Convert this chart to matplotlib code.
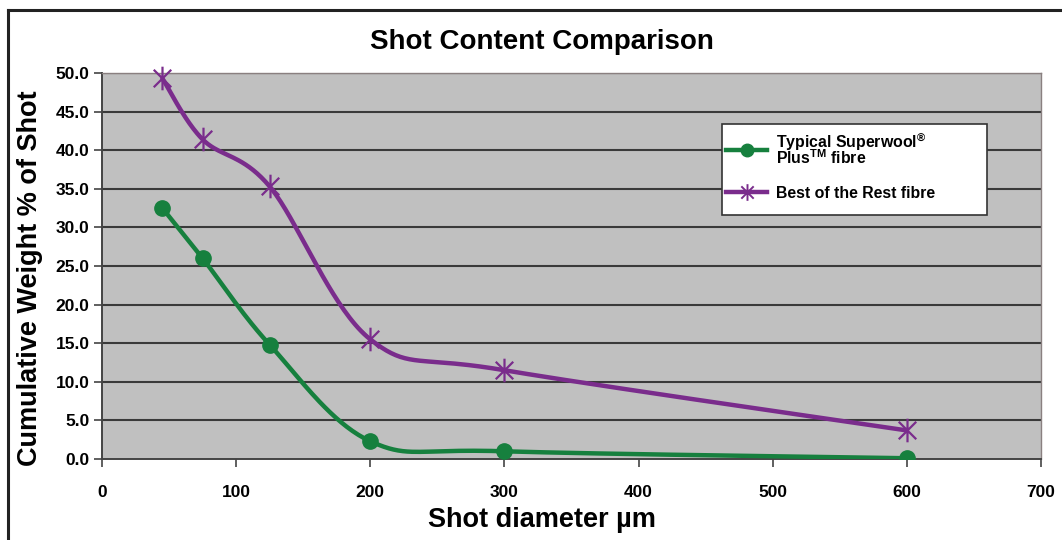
import numpy as np
import matplotlib
matplotlib.use("Agg")
import matplotlib.pyplot as plt
from matplotlib.path import Path
from matplotlib.lines import Line2D
from matplotlib.patches import Rectangle

# ---- data ----
diameters = [45, 75, 125, 200, 300, 600]
superwool = [32.5, 26.0, 14.8, 2.3, 1.0, 0.1]
best_rest = [49.3, 41.4, 35.3, 15.5, 11.5, 3.7]
series_labels = ["Typical Superwool$^{\\circledR}$\nPlus$^{\\mathrm{TM}}$ fibre", "Best of the Rest fibre"]
x_ticks = [0, 100, 200, 300, 400, 500, 600, 700]
y_ticks = [0, 5, 10, 15, 20, 25, 30, 35, 40, 45, 50]

GREEN = "#16803e"
PURPLE = "#7a2c8c"
plt.rcParams['font.family'] = ['Liberation Sans', 'DejaVu Sans']
plt.rcParams['mathtext.fontset'] = 'custom'
plt.rcParams['mathtext.rm'] = 'Liberation Sans:bold'
plt.rcParams['mathtext.bf'] = 'Liberation Sans:bold'
plt.rcParams['mathtext.default'] = 'rm'

W, H = 1062.0, 540.0
fig = plt.figure(figsize=(10.62, 5.4), dpi=100)
ax = fig.add_axes([102/W, 1-459/H, (1041-102)/W, (459-73)/H])

XMIN, XMAX, YMIN, YMAX = 0, 700, 0, 50
ax_w, ax_h = 939.0, 386.0


def smooth(xs, ys, n=40):
    # Excel-like Bezier smoothing computed in screen space
    P = np.column_stack([(np.array(xs) - XMIN) / (XMAX - XMIN) * ax_w,
                         (np.array(ys) - YMIN) / (YMAX - YMIN) * ax_h])
    out = []
    m = len(P)
    t = np.linspace(0, 1, n)[:, None]
    for i in range(m - 1):
        p0 = P[i - 1] if i > 0 else P[i]
        p1, p2 = P[i], P[i + 1]
        p3 = P[i + 2] if i + 2 < m else P[i + 1]
        c1 = p1 + (p2 - p0) / 6.0
        c2 = p2 - (p3 - p1) / 6.0
        seg = ((1 - t) ** 3) * p1 + 3 * ((1 - t) ** 2) * t * c1 + 3 * (1 - t) * t ** 2 * c2 + t ** 3 * p2
        out.append(seg if i == 0 else seg[1:])
    S = np.vstack(out)
    return S[:, 0] / ax_w * (XMAX - XMIN) + XMIN, S[:, 1] / ax_h * (YMAX - YMIN) + YMIN

star = Path([(-1, -1), (1, 1), (-1, 1), (1, -1), (0, -1.35), (0, 1.35)],
            [Path.MOVETO, Path.LINETO, Path.MOVETO, Path.LINETO, Path.MOVETO, Path.LINETO])

ax.set_facecolor("#c0c0c0")
for yv in y_ticks[1:]:
    ax.axhline(yv, color="#3a3a3a", lw=1.5, zorder=1)

sx, sy = smooth(diameters, superwool)
ax.plot(sx, sy, color=GREEN, lw=3.2, zorder=3, solid_capstyle='round')
ax.plot(diameters, superwool, 'o', color=GREEN, ms=11, zorder=4)

bx, by = smooth(diameters, best_rest)
ax.plot(bx, by, color=PURPLE, lw=3.2, zorder=3, solid_capstyle='round')
ax.plot(diameters, best_rest, linestyle='none', marker=star, ms=17, mec=PURPLE,
        mfc='none', mew=1.6, zorder=4, clip_on=False)

ax.set_xlim(XMIN, XMAX)
ax.set_ylim(YMIN, YMAX)
ax.set_xticks(x_ticks)
ax.set_yticks(y_ticks)
ax.set_xticklabels([str(v) for v in x_ticks], fontsize=12.5, fontweight='bold')
ax.set_yticklabels([f"{v:.1f}" for v in y_ticks], fontsize=12.5, fontweight='bold')
ax.tick_params(axis='both', direction='out', length=6, width=1.2, color="#444444")
ax.tick_params(axis='x', pad=13)
ax.tick_params(axis='y', pad=3)
for side in ['top', 'right']:
    ax.spines[side].set_color("#8a8080")
    ax.spines[side].set_linewidth(1.0)
for side in ['left', 'bottom']:
    ax.spines[side].set_color("#444444")
    ax.spines[side].set_linewidth(1.4)

fig.text(542/W, 1-42/H, "Shot Content Comparison", ha='center', va='center',
         fontsize=20, fontweight='bold')
fig.text(542/W, 1-520/H, "Shot diameter \u00b5m", ha='center', va='center',
         fontsize=19.5, fontweight='bold')
fig.text(30/W, 1-278/H, "Cumulative Weight % of Shot", ha='center', va='center',
         rotation=90, fontsize=19.5, fontweight='bold')

# legend box
box = Rectangle((722/W, 1-215/H), (987-722)/W, (215-124)/H, transform=fig.transFigure,
                facecolor='white', edgecolor='#333333', lw=1.2, zorder=5)
fig.add_artist(box)

handles = [Line2D([], [], color=GREEN, lw=3.2, marker='o', ms=9),
           Line2D([], [], color=PURPLE, lw=3.2, marker=star, ms=12, mec=PURPLE, mew=1.4)]
leg = fig.legend(handles, series_labels, loc='upper left',
                 bbox_to_anchor=(726/W, 1-131/H), frameon=False,
                 prop={'weight': 'bold', 'size': 11.4}, handlelength=2.6, labelspacing=1.15,
                 borderpad=0, handletextpad=0.55, borderaxespad=0)
leg.set_zorder(6)
for t in leg.get_texts():
    t.set_linespacing(0.75)

# outer frame (left and top)
fig.add_artist(Line2D([8/W, 8/W], [0, 1-10/H], color="#222222", lw=2.2, transform=fig.transFigure))
fig.add_artist(Line2D([8/W, 1.0], [1-10/H, 1-10/H], color="#222222", lw=2.2, transform=fig.transFigure))

fig.savefig("out.png", dpi=100)
